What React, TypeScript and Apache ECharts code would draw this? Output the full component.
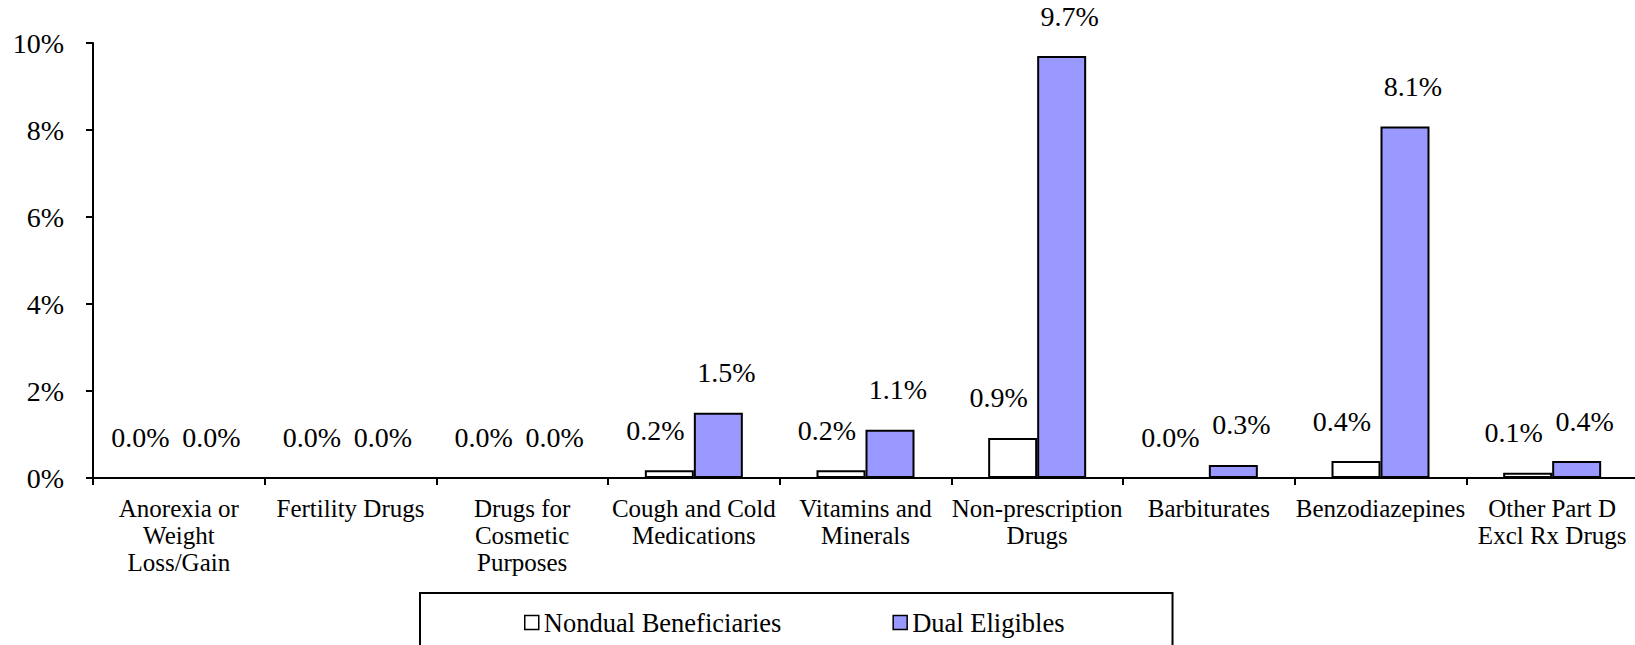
import React, { useEffect, useRef } from "react";
import * as echarts from "echarts";

const categories = [
  "Anorexia or\nWeight\nLoss/Gain",
  "Fertility Drugs",
  "Drugs for\nCosmetic\nPurposes",
  "Cough and Cold\nMedications",
  "Vitamins and\nMinerals",
  "Non-prescription\nDrugs",
  "Barbiturates",
  "Benzodiazepines",
  "Other Part D\nExcl Rx Drugs",
];
const nondualValues = [0, 0, 0, 0.18, 0.18, 0.92, 0, 0.39, 0.12];
const dualValues = [0, 0, 0, 1.5, 1.11, 9.7, 0.3, 8.08, 0.39];
const seriesNames = ["Nondual Beneficiaries", "Dual Eligibles"];
const yTicks = { min: 0, max: 10, interval: 2 };

const FONT = "Liberation Serif";

export default function App() {
  const ref = useRef<HTMLDivElement>(null);
  useEffect(() => {
    if (!ref.current) return;
    const chart = echarts.init(ref.current, null, { renderer: "svg" });
    const labelCommon = {
      show: true,
      position: "top" as const,
      distance: 26,
      fontSize: 28,
      fontFamily: FONT,
      color: "#000",
      formatter: (p: any) => Number(p.value).toFixed(1) + "%",
    };
    chart.setOption({
      animation: false,
      backgroundColor: "#fff",
      textStyle: { fontFamily: FONT, color: "#000" },
      grid: {
        left: 93,
        top: 43,
        width: 1545,
        height: 435,
        containLabel: false,
        outerBoundsMode: "none",
      },
      legend: {
        data: seriesNames,
        left: 420,
        top: 593,
        orient: "horizontal",
        padding: [16, 108, 16, 104],
        itemGap: 111,
        itemWidth: 14,
        itemHeight: 14,
        icon: "rect",
        borderColor: "#000",
        borderWidth: 2,
        borderRadius: 0,
        textStyle: { fontSize: 26.5, fontFamily: FONT, color: "#000" },
        itemStyle: { borderColor: "#000", borderWidth: 1.5 },
      },
      xAxis: {
        type: "category",
        data: categories,
        axisLine: { lineStyle: { color: "#000", width: 2 } },
        axisTick: { show: true, length: 7, lineStyle: { color: "#000", width: 2 } },
        axisLabel: {
          interval: 0,
          margin: 17,
          fontSize: 25,
          lineHeight: 27,
          fontFamily: FONT,
          color: "#000",
          align: "center",
        },
        splitLine: { show: false },
      },
      yAxis: {
        type: "value",
        min: yTicks.min,
        max: yTicks.max,
        interval: yTicks.interval,
        axisLine: { show: true, lineStyle: { color: "#000", width: 2 } },
        axisTick: { show: true, length: 7, lineStyle: { color: "#000", width: 2 } },
        axisLabel: {
          margin: 29,
          fontSize: 28,
          fontFamily: FONT,
          color: "#000",
          formatter: "{value}%",
        },
        splitLine: { show: false },
      },
      series: [
        {
          name: seriesNames[0],
          type: "bar",
          data: nondualValues,
          barWidth: 49,
          barGap: "0%",
          itemStyle: { color: "#ffffff", borderColor: "#000", borderWidth: 2 },
          label: { ...labelCommon, offset: [-14, 0] },
        },
        {
          name: seriesNames[1],
          type: "bar",
          data: dualValues,
          barWidth: 49,
          barGap: "0%",
          itemStyle: { color: "#9999ff", borderColor: "#000", borderWidth: 2 },
          label: { ...labelCommon, offset: [8, 0] },
        },
      ],
    });
    return () => chart.dispose();
  }, []);
  return (
    <div
      ref={ref}
      style={{ position: "absolute", left: 0, top: 0, width: 1635, height: 645 }}
    />
  );
}
